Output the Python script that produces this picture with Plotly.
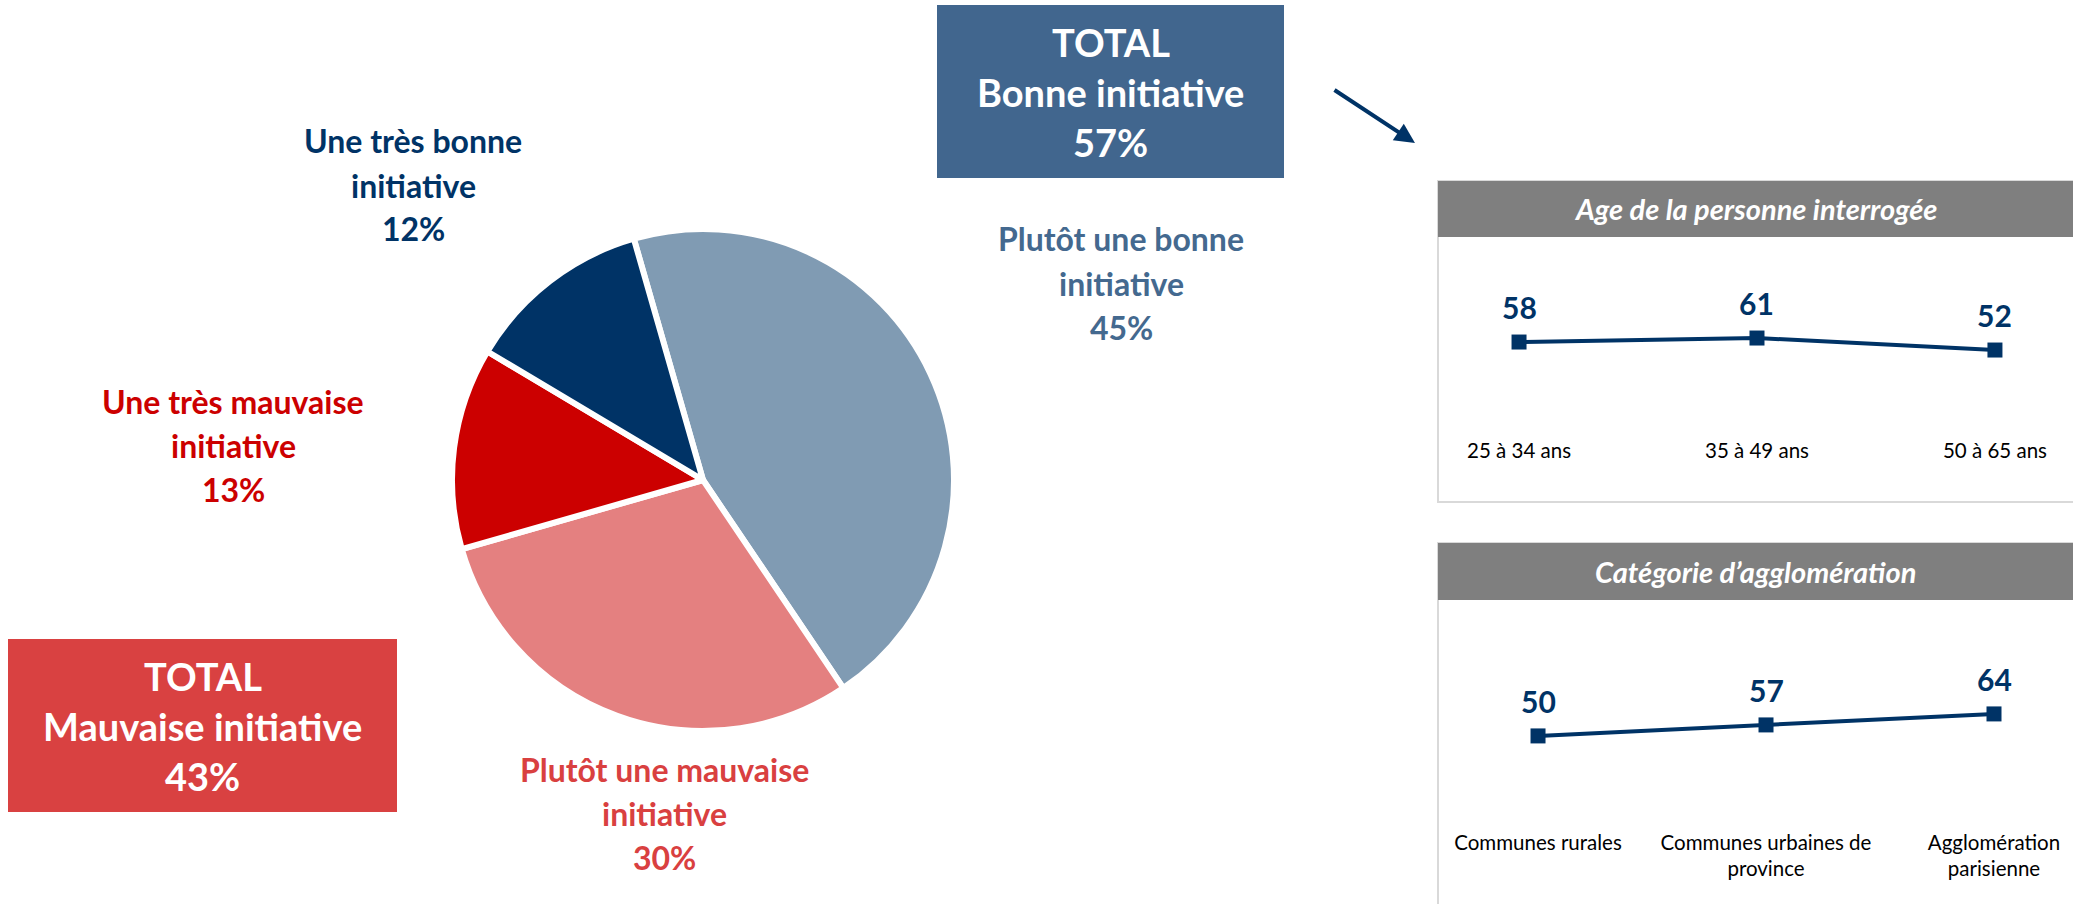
import plotly.graph_objects as go

W, H = 2073, 904

# ---------------- data ----------------
pie_labels = ["Plutôt une bonne initiative", "Plutôt une mauvaise initiative",
              "Une très mauvaise initiative", "Une très bonne initiative"]
pie_values = [45, 30, 13, 12]
pie_colors = ["#809BB3", "#E48080", "#CC0000", "#003366"]
label_colors = ["#44698F", "#D94040", "#CC0000", "#003366"]
label_lines = [["Plutôt une bonne", "initiative"],
               ["Plutôt une mauvaise", "initiative"],
               ["Une très mauvaise", "initiative"],
               ["Une très bonne", "initiative"]]

age_cats = ["25 à 34 ans", "35 à 49 ans", "50 à 65 ans"]
age_vals = [58, 61, 52]
age_title = "Age de la personne interrogée"

agglo_cats = ["Communes rurales", "Communes urbaines de<br>province", "Agglomération<br>parisienne"]
agglo_vals = [50, 57, 64]
agglo_title = "Catégorie d’agglomération"

total_bonne = 57
total_mauvaise = 43

FONT = "Lato"
NAVY = "#003366"


def fx(x):
    return x / W


def fy(y):
    return 1 - y / H


fig = go.Figure()

# ---------------- pie ----------------
cx, cy, r = 703, 480, 251
fig.add_trace(go.Pie(
    labels=pie_labels, values=pie_values, sort=False, direction="clockwise",
    rotation=-16,
    marker=dict(colors=pie_colors, line=dict(color="white", width=6)),
    textinfo="none", hoverinfo="label+percent", showlegend=False,
    domain=dict(x=[fx(cx - r), fx(cx + r)], y=[fy(cy + r), fy(cy - r)]),
))

annotations = []
shapes = []

# pie labels (three lines each)
label_pos = [(1121, 239), (664, 769), (233, 401), (413, 141)]
LS = 44
for (lx, ly), lines, val, col in zip(label_pos, label_lines, pie_values, label_colors):
    for i, t in enumerate(lines + [f"{val}%"]):
        annotations.append(dict(
            x=fx(lx), y=fy(ly + i * LS), xref="paper", yref="paper",
            text=f"<b>{t}</b>", showarrow=False, xanchor="center", yanchor="middle",
            font=dict(family=FONT, size=32, color=col)))

# total boxes
boxes = [
    (937, 5, 1284, 178, "#41668E", ["TOTAL", "Bonne initiative", f"{total_bonne}%"]),
    (8, 639, 397, 812, "#D94141", ["TOTAL", "Mauvaise initiative", f"{total_mauvaise}%"]),
]
for x0, y0, x1, y1, col, lines in boxes:
    shapes.append(dict(type="rect", xref="paper", yref="paper",
                       x0=fx(x0), x1=fx(x1), y0=fy(y1), y1=fy(y0),
                       fillcolor=col, line=dict(width=0), layer="below"))
    mx = (x0 + x1) / 2
    my = (y0 + y1) / 2
    for i, t in enumerate(lines):
        annotations.append(dict(
            x=fx(mx), y=fy(my + (i - 1) * 50), xref="paper", yref="paper",
            text=f"<b>{t}</b>", showarrow=False, xanchor="center", yanchor="middle",
            font=dict(family=FONT, size=38, color="white")))

# arrow
annotations.append(dict(
    x=fx(1415), y=fy(143), ax=1333 - 1415, ay=89 - 143, xref="paper", yref="paper",
    axref="pixel", ayref="pixel", text="", showarrow=True, arrowhead=2,
    arrowsize=1, arrowwidth=4, arrowcolor=NAVY))

# ---------------- side panels ----------------
PX0 = 1438
panels = [
    # header top, header bottom, panel bottom, plot bottom, title, cats, vals, y-range, x-range
    (181, 237, 502, 436, age_title, age_cats, age_vals, [-12.5, 136.8], [-0.3405, 2.328], "x2", "y2"),
    (543, 600, 1000, 828, agglo_title, agglo_cats, agglo_vals, [-8.6, 136.5], [-0.4387, 2.3465], "x3", "y3"),
]
layout_axes = {}
for k, (ht, hb, pb, plb, title, cats, vals, yr, xr, xa, ya) in enumerate(panels):
    shapes.append(dict(type="rect", xref="paper", yref="paper",
                       x0=fx(PX0), x1=fx(W + 5), y0=fy(pb), y1=fy(ht),
                       fillcolor="rgba(0,0,0,0)", line=dict(color="#D9D9D9", width=2)))
    shapes.append(dict(type="rect", xref="paper", yref="paper",
                       x0=fx(PX0), x1=fx(W + 5), y0=fy(hb), y1=fy(ht),
                       fillcolor="#7F7F7F", line=dict(width=0)))
    annotations.append(dict(
        x=fx((PX0 + W) / 2), y=fy((ht + hb) / 2), xref="paper", yref="paper",
        text=f"<b><i>{title}</i></b>", showarrow=False, xanchor="center", yanchor="middle",
        font=dict(family=FONT, size=29, color="white")))

    xs = list(range(len(cats)))
    fig.add_trace(go.Scatter(
        x=xs, y=vals, mode="lines+markers", xaxis=xa, yaxis=ya,
        line=dict(color=NAVY, width=4),
        marker=dict(symbol="square", size=15, color=NAVY),
        showlegend=False, hoverinfo="x+y"))
    for xv, v in zip(xs, vals):
        annotations.append(dict(
            x=xv, y=v, xref=xa, yref=ya, text=f"<b>{v}</b>", showarrow=False,
            yshift=35, xanchor="center", yanchor="middle",
            font=dict(family=FONT, size=30, color=NAVY)))

    xname = "xaxis" + xa[1:]
    yname = "yaxis" + ya[1:]
    layout_axes[xname] = dict(
        domain=[fx(PX0), 1], range=xr, anchor=ya,
        tickmode="array", tickvals=xs, ticktext=cats,
        showgrid=False, zeroline=False, showline=False, ticks="",
        tickfont=dict(family=FONT, size=20.5, color="#000000"), fixedrange=True)
    layout_axes[yname] = dict(
        domain=[fy(plb), fy(hb)], range=yr, anchor=xa, visible=False,
        showgrid=False, zeroline=False, fixedrange=True)

fig.update_layout(
    width=W, height=H, margin=dict(l=0, r=0, t=0, b=0),
    paper_bgcolor="white", plot_bgcolor="rgba(0,0,0,0)",
    font=dict(family=FONT),
    annotations=annotations, shapes=shapes,
    xaxis=dict(visible=False), yaxis=dict(visible=False),
    **layout_axes,
)

fig.write_html(
    "out.html",
    config={"displayModeBar": False},
    post_script="document.body.style.margin='0px';document.body.style.overflow='hidden';",
)
